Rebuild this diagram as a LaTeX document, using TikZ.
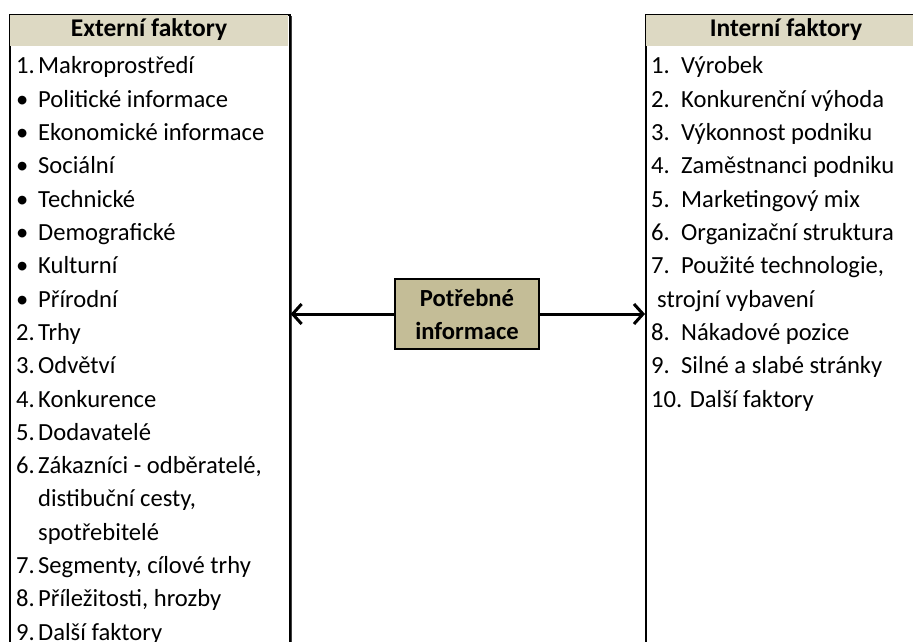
\documentclass[tikz,border=0pt]{standalone}
\usepackage{fontspec}
\setmainfont{Carlito}
\usetikzlibrary{arrows.meta}
\definecolor{headtan}{HTML}{DDD9C3}
\definecolor{boxtan}{HTML}{C4BD97}
\begin{document}
\begin{tikzpicture}[x=1pt,y=-1pt,
  panel/.style={draw=black,line width=1.6pt,fill=white,anchor=north west,inner sep=0,
                minimum width=280pt,minimum height=680pt},
  item/.style={anchor=base west,inner sep=0,font=\fontsize{24.6}{33}\selectfont},
  headtext/.style={anchor=base,inner sep=0,font=\fontsize{25.5}{33}\selectfont\bfseries},
  infobox/.style={draw=black,line width=2pt,fill=boxtan,align=center,inner sep=0,
                  minimum width=144pt,minimum height=70pt,
                  font=\fontsize{24.6}{33}\selectfont\bfseries},
  link/.style={line width=3pt,-{Straight Barb[length=9pt,width=20pt]}}]
\clip (0,0) rectangle (913,642);

% left panel: external factors
\fill[black!75] (11,16) rectangle (291.5,700);
\node[panel] (ext) at (9,14) {};
\fill[headtan] (9.8,14.8) rectangle (288.2,46);
\node[headtext] (exthead) at (149,37) {Externí faktory};
\foreach \n/\t [count=\i from 0] in {
  1./Makroprostředí, •/Politické informace, •/Ekonomické informace, •/Sociální,
  •/Technické, •/Demografické, •/Kulturní, •/Přírodní, 2./Trhy, 3./Odvětví,
  4./Konkurence, 5./Dodavatelé, 6./{Zákazníci - odběratelé,}, /{distibuční cesty,},
  /spotřebitelé, 7./{Segmenty, cílové trhy}, 8./{Příležitosti, hrozby},
  9./Další faktory}{
  \node[item] (en\i) at (16,74+33.3*\i) {\n};
  \node[item] (et\i) at (38,74+33.3*\i) {\t};
}

% right panel: internal factors
\node[panel,minimum width=283pt] (int) at (645,14) {};
\fill[headtan] (645.8,14.8) rectangle (927.2,46);
\node[headtext] (inthead) at (786,37) {Interní faktory};
\foreach \n/\t [count=\i from 0] in {
  1./Výrobek, 2./Konkurenční výhoda, 3./Výkonnost podniku,
  4./Zaměstnanci podniku, 5./Marketingový mix, 6./Organizační struktura,
  7./{Použité technologie,}}{
  \node[item] (in\i) at (651,74+33.3*\i) {\n};
  \node[item] (it\i) at (681,74+33.3*\i) {\t};
}
\node[item] (it7) at (657,74+33.3*7) {strojní vybavení};
\foreach \n/\t [count=\i from 8] in {
  8./Nákadové pozice, 9./Silné a slabé stránky}{
  \node[item] (in\i) at (651,74+33.3*\i) {\n};
  \node[item] (it\i) at (681,74+33.3*\i) {\t};
}
\node[item] (it10) at (651,74+33.3*10) {10. Další faktory};

% centre box and arrows
\node[infobox] (info) at (467,314) {Potřebné\\informace};
\draw[link] (info.west) -- (ext.east |- info.west);
\draw[link] (info.east) -- (int.west |- info.east);
\end{tikzpicture}
\end{document}
